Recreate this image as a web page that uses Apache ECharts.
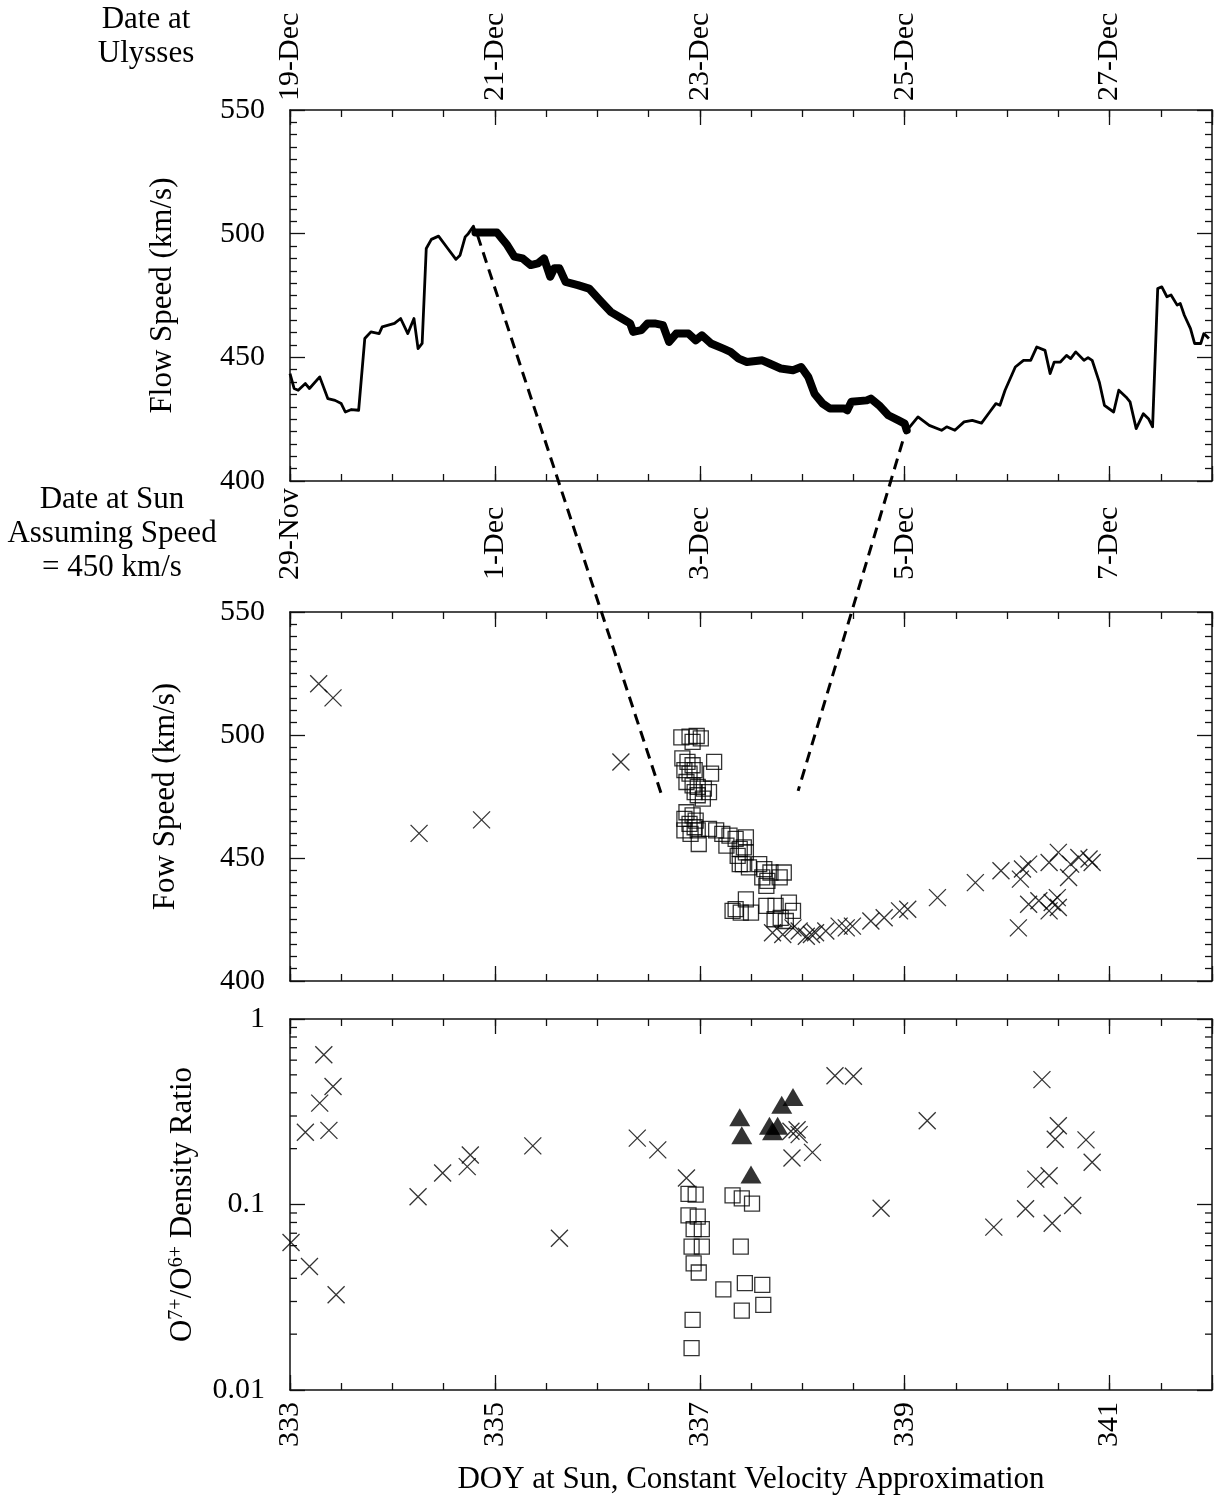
<!DOCTYPE html>
<html>
<head>
<meta charset="utf-8">
<script src="https://cdn.jsdelivr.net/npm/echarts@6/dist/echarts.min.js"></script>
<style>
html, body { margin: 0; padding: 0; background: #fff; }
#chart { width: 1214px; height: 1501px; }
</style>
</head>
<body>
<div id="chart"></div>
<script>
// tick labels
var labelDoy = [333, 335, 337, 339, 341];
var ulyssesDates = ['19-Dec', '21-Dec', '23-Dec', '25-Dec', '27-Dec'];
var sunDates = ['29-Nov', '1-Dec', '3-Dec', '5-Dec', '7-Dec'];

// top panel: flow speed at Ulysses, mapped back to DOY at Sun
var ulyssesDoy = [333.00, 333.04, 333.08, 333.15, 333.19, 333.29, 333.37, 333.44, 333.50, 333.54, 333.60, 333.67,
  333.73, 333.79, 333.87, 333.90, 333.96, 334.02, 334.08, 334.15, 334.21, 334.25, 334.29, 334.33, 334.38, 334.45,
  334.54, 334.62, 334.66, 334.71, 334.74, 334.79, 334.81, 335.02, 335.12, 335.19, 335.27, 335.35, 335.42, 335.48,
  335.54, 335.58, 335.63, 335.69, 335.81, 335.92, 336.04, 336.13, 336.24, 336.32, 336.35, 336.43, 336.49, 336.56,
  336.64, 336.70, 336.77, 336.89, 336.96, 337.02, 337.11, 337.23, 337.30, 337.38, 337.46, 337.61, 337.68, 337.79,
  337.91, 337.99, 338.06, 338.12, 338.20, 338.27, 338.41, 338.44, 338.48, 338.63, 338.67, 338.75, 338.84, 338.94,
  339.00, 339.02, 339.05, 339.13, 339.24, 339.36, 339.41, 339.49, 339.58, 339.66, 339.75, 339.83, 339.89, 339.93,
  339.98, 340.08, 340.16, 340.23, 340.29, 340.37, 340.42, 340.46, 340.52, 340.58, 340.62, 340.67, 340.75, 340.79,
  340.83, 340.90, 340.95, 341.04, 341.09, 341.16, 341.20, 341.26, 341.33, 341.38, 341.42, 341.47, 341.51, 341.56,
  341.60, 341.66, 341.69, 341.73, 341.79, 341.83, 341.89, 341.92, 341.97];
var ulyssesSpeed = [443.4, 437.4, 436.7, 439.4, 437.4, 442.1, 433.3, 432.6, 431.3, 427.9, 428.9, 428.6,
  457.6, 460.3, 459.6, 462.3, 463.0, 463.7, 465.7, 459.6, 465.7, 453.5, 455.6, 494.0, 497.7, 499.0,
  494.0, 489.6, 491.3, 498.7, 500.0, 503.0, 500.5, 500.5, 495.4, 490.7, 490.0, 487.3, 488.0, 490.0,
  482.6, 486.0, 486.0, 480.5, 479.2, 477.8, 472.4, 468.4, 465.7, 463.7, 460.3, 461.0, 463.7, 463.7,
  463.0, 456.2, 459.6, 459.6, 456.9, 458.9, 455.6, 453.5, 452.2, 449.5, 448.1, 448.8, 447.5, 445.5,
  444.8, 446.1, 442.0, 435.3, 431.3, 429.3, 429.3, 428.6, 432.0, 432.6, 433.3, 430.6, 426.6, 424.5,
  423.2, 420.5, 421.9, 425.9, 422.5, 420.5, 421.9, 420.5, 423.9, 424.5, 423.4, 427.9, 431.3, 430.6,
  436.7, 446.1, 448.8, 448.8, 454.2, 452.8, 443.4, 448.1, 448.1, 450.8, 449.5, 452.2, 448.8, 449.9,
  448.8, 440.0, 430.6, 427.9, 436.7, 434.0, 432.0, 421.2, 427.2, 425.2, 421.9, 477.8, 478.5, 474.5,
  475.2, 471.1, 471.8, 467.0, 461.6, 455.6, 455.6, 459.6, 457.6];
var highlightRange = [334.80, 339.02];

// dashed connectors: [doy, speed] on top panel -> [doy, speed] on middle panel
var connectorTop = [[334.83, 499.4], [338.98, 416.0]];
var connectorMid = [[336.63, 475.3], [337.96, 477.3]];

// middle panel: flow speed at Sun
var midCrossDoy = [333.28, 333.42, 334.26, 334.87, 336.23, 337.71, 337.81, 337.91, 337.97, 338.04, 338.09, 338.13,
  338.23, 338.36, 338.43, 338.49, 338.67, 338.80, 338.95, 339.03, 339.32, 339.69, 339.94, 340.15, 340.21, 340.13,
  340.41, 340.50, 340.62, 340.60, 340.70, 340.80, 340.83, 340.21, 340.31, 340.44, 340.49, 340.41, 340.11, 340.50];
var midCrossSpeed = [520.8, 515.1, 460.0, 465.5, 489.0, 419.6, 418.9, 421.6, 420.3, 418.2, 418.9, 419.6,
  420.3, 422.3, 421.6, 422.3, 424.4, 425.7, 428.5, 429.2, 433.9, 440.0, 444.8, 445.5, 447.5, 441.4,
  448.2, 452.3, 447.5, 442.1, 450.2, 449.6, 448.2, 431.2, 432.6, 431.9, 433.9, 428.5, 421.6, 429.9];
var midSquareDoy = [336.82, 336.90, 336.97, 337.01, 336.93, 336.83, 336.88, 336.93, 337.14, 336.85, 336.90, 336.95,
  337.11, 336.87, 336.93, 336.98, 337.04, 337.09, 336.98, 337.03, 336.95, 336.87, 336.93, 336.85, 336.90, 336.96,
  336.85, 336.91, 336.98, 336.99, 336.95, 337.09, 337.16, 337.22, 337.29, 337.26, 337.35, 337.39, 337.45, 337.43,
  337.37, 337.42, 337.48, 337.45, 337.39, 337.58, 337.63, 337.61, 337.66, 337.69, 337.82, 337.78, 337.65, 337.35,
  337.40, 337.45, 337.50, 337.32, 337.65, 337.74, 337.79, 337.87, 337.91, 337.84, 337.73];
var midSquareSpeed = [499.0, 499.3, 499.6, 498.6, 497.2, 490.5, 489.1, 487.7, 489.1, 485.7, 484.3, 485.7,
  484.3, 480.9, 479.5, 478.9, 478.2, 476.8, 475.5, 474.1, 476.8, 468.6, 467.3, 465.9, 463.9, 465.2,
  461.2, 459.8, 461.2, 455.7, 462.5, 461.8, 461.2, 459.8, 459.1, 455.0, 457.8, 453.7, 458.4, 454.3,
  450.9, 447.5, 446.2, 452.3, 447.5, 447.5, 445.5, 442.1, 440.7, 444.1, 444.1, 442.1, 438.7, 429.2,
  427.8, 433.2, 427.8, 428.5, 430.5, 430.5, 425.7, 431.9, 428.5, 424.4, 425.1];

// bottom panel: O7+/O6+ density ratio
var ratioCrossDoy = [333.01, 333.19, 333.15, 333.33, 333.29, 333.42, 333.38, 333.45, 334.25, 334.49, 334.73, 334.76,
  335.37, 335.63, 336.39, 336.59, 336.87, 338.32, 338.50, 337.95, 337.89, 337.97, 337.90, 338.10, 338.77, 339.22,
  339.87, 340.18, 340.28, 340.41, 340.34, 340.50, 340.47, 340.44, 340.64, 340.77, 340.83];
var ratioCrossValue = [0.0624, 0.0463, 0.245, 0.642, 0.352, 0.433, 0.251, 0.0326, 0.110, 0.148, 0.160, 0.185,
  0.207, 0.0658, 0.228, 0.197, 0.139, 0.494, 0.491, 0.253, 0.248, 0.238, 0.178, 0.191, 0.0955, 0.283,
  0.0755, 0.0948, 0.137, 0.143, 0.471, 0.266, 0.225, 0.0793, 0.0988, 0.223, 0.169];
var ratioSquareDoy = [336.89, 336.96, 336.89, 336.98, 336.94, 337.02, 336.92, 337.02, 336.94, 336.99, 337.32,
  337.41, 337.51, 337.40, 337.23, 337.44, 337.61, 337.41, 337.62, 336.93, 336.92];
var ratioSquareValue = [0.114, 0.113, 0.0873, 0.0861, 0.0736, 0.0736, 0.0593, 0.0593, 0.0482, 0.0430, 0.112,
  0.108, 0.101, 0.0593, 0.0349, 0.0377, 0.0369, 0.0268, 0.0288, 0.0239, 0.0168];
var ratioTriDoy = [337.39, 337.41, 337.50, 337.68, 337.71, 337.76, 337.80, 337.91];
var ratioTriValue = [0.295, 0.236, 0.145, 0.266, 0.248, 0.266, 0.345, 0.380];
var logMinorTicks = [0.02, 0.03, 0.04, 0.05, 0.06, 0.07, 0.08, 0.09, 0.2, 0.3, 0.4, 0.5, 0.6, 0.7, 0.8, 0.9];

var FONT = 'Liberation Serif';
var INK = '#111';

function zip(xs, ys) {
  return xs.map(function (x, i) { return [x, ys[i]]; });
}

function pickLabel(labels) {
  return function (v) {
    for (var i = 0; i < labelDoy.length; i++) {
      if (Math.abs(v - labelDoy[i]) < 1e-6) return labels[i];
    }
    return '';
  };
}

// 4 x axes per grid: minor ticks + major ticks, bottom and top
function xAxesFor(grid, top, bottom) {
  var list = [];
  ['bottom', 'top'].forEach(function (pos) {
    list.push({
      type: 'value', gridIndex: grid, position: pos, min: 333, max: 342, interval: 0.5,
      splitLine: {show: false},
      axisLine: {show: true, onZero: false, lineStyle: {color: INK, width: 1.5}},
      axisTick: {show: true, inside: true, length: 7, lineStyle: {color: INK, width: 1.3}},
      axisLabel: {show: false}
    });
    var cfg = pos === 'top' ? top : bottom;
    var ax = {
      type: 'value', gridIndex: grid, position: pos, min: 333, max: 342, interval: 2,
      splitLine: {show: false},
      axisLine: {show: false, onZero: false},
      axisTick: {show: true, inside: true, length: 15, lineStyle: {color: INK, width: 1.3}},
      axisLabel: {show: false}
    };
    if (cfg) {
      ax.axisLabel = {
        show: true, rotate: pos === 'top' ? -90 : 90, margin: cfg.margin, formatter: pickLabel(cfg.labels),
        fontFamily: FONT, fontSize: 30, color: '#000'
      };
      if (cfg.name) {
        ax.name = cfg.name;
        ax.nameLocation = 'middle';
        ax.nameGap = cfg.nameGap;
        ax.nameTextStyle = {fontFamily: FONT, fontSize: 31, color: '#000'};
      }
    }
    list.push(ax);
  });
  return list;
}

function yAxesFor(grid, name, nameGap, isLog) {
  var base = isLog
    ? {type: 'log', logBase: 10, min: 0.01, max: 1}
    : {type: 'value', min: 400, max: 550, interval: 50,
       minorTick: {show: true, splitNumber: 10, length: 7, lineStyle: {color: INK, width: 1.3}}};
  var left = Object.assign({
    gridIndex: grid, position: 'left',
    splitLine: {show: false},
    axisLine: {show: true, onZero: false, lineStyle: {color: INK, width: 1.5}},
    axisTick: {show: true, inside: true, length: 15, lineStyle: {color: INK, width: 1.3}},
    axisLabel: {
      show: true, margin: 25, fontFamily: FONT, fontSize: 30, color: '#000',
      formatter: function (v) { return String(Number(Number(v).toPrecision(3))); }
    },
    name: name, nameLocation: 'middle', nameGap: nameGap, nameRotate: 90,
    nameTextStyle: {
      fontFamily: FONT, fontSize: 31, color: '#000',
      rich: {sup: {fontFamily: FONT, fontSize: 20, color: '#000', verticalAlign: 'top', lineHeight: 18}}
    }
  }, base);
  var right = Object.assign({}, left, {
    position: 'right', axisLabel: {show: false}, name: ''
  });
  return [left, right];
}

var grids = [
  {left: 290, right: 2, top: 110, height: 371},
  {left: 290, right: 2, top: 612, height: 369},
  {left: 290, right: 2, top: 1019, height: 371}
];

var xAxes = []
  .concat(xAxesFor(0, {labels: ulyssesDates, margin: 9}, null))
  .concat(xAxesFor(1, {labels: sunDates, margin: 32}, null))
  .concat(xAxesFor(2, null, {labels: labelDoy.map(String), margin: 12,
    name: 'DOY at Sun, Constant Velocity Approximation', nameGap: 74}));

var yAxes = []
  .concat(yAxesFor(0, 'Flow Speed (km/s)', 112, false))
  .concat(yAxesFor(1, 'Fow Speed (km/s)', 109, false))
  .concat(yAxesFor(2, 'O{sup|7+}/O{sup|6+} Density Ratio', 92, true));

var ulyssesData = zip(ulyssesDoy, ulyssesSpeed);
var crossSymbol = 'path://M0,0L20,20M20,0L0,20';
var hollow = {color: 'rgba(0,0,0,0)', borderColor: '#000', borderWidth: 1.3};

var option = {
  animation: false,
  backgroundColor: '#fff',
  grid: grids,
  xAxis: xAxes,
  yAxis: yAxes,
  graphic: [
    {type: 'text', x: 146, y: 3, style: {text: 'Date at\nUlysses', font: '31px "Liberation Serif"',
      textAlign: 'center', textVerticalAlign: 'top', lineHeight: 34, fill: '#000'}},
    {type: 'text', x: 112, y: 483, style: {text: 'Date at Sun\nAssuming Speed\n= 450 km/s', font: '31px "Liberation Serif"',
      textAlign: 'center', textVerticalAlign: 'top', lineHeight: 34, fill: '#000'}}
  ],
  series: [
    {
      type: 'line', xAxisIndex: 0, yAxisIndex: 0, data: ulyssesData, symbol: 'none',
      lineStyle: {color: '#000', width: 2.8, join: 'round'}
    },
    {
      type: 'line', xAxisIndex: 0, yAxisIndex: 0, symbol: 'none',
      data: ulyssesData.filter(function (p) { return p[0] >= highlightRange[0] && p[0] <= highlightRange[1]; }),
      lineStyle: {color: '#000', width: 8, join: 'round', cap: 'round'}
    },
    {
      type: 'scatter', xAxisIndex: 4, yAxisIndex: 2, data: zip(midSquareDoy, midSquareSpeed),
      symbol: 'rect', symbolSize: 15, itemStyle: hollow
    },
    {
      type: 'scatter', xAxisIndex: 4, yAxisIndex: 2, data: zip(midCrossDoy, midCrossSpeed),
      symbol: crossSymbol, symbolSize: 17, itemStyle: hollow
    },
    {
      type: 'scatter', xAxisIndex: 8, yAxisIndex: 4, data: zip(ratioCrossDoy, ratioCrossValue),
      symbol: crossSymbol, symbolSize: 17, itemStyle: hollow
    },
    {
      type: 'scatter', xAxisIndex: 8, yAxisIndex: 4, data: zip(ratioSquareDoy, ratioSquareValue),
      symbol: 'rect', symbolSize: 15, itemStyle: hollow
    },
    {
      type: 'scatter', xAxisIndex: 8, yAxisIndex: 4, data: zip(ratioTriDoy, ratioTriValue),
      symbol: 'triangle', symbolSize: [21, 18], itemStyle: {color: '#000'}
    },
    {
      // minor ticks of the log axis, both sides
      type: 'custom', xAxisIndex: 8, yAxisIndex: 4, silent: true,
      data: logMinorTicks.map(function (v) { return [333, v]; }),
      renderItem: function (params, api) {
        var v = api.value(1);
        var a = api.coord([333, v]);
        var b = api.coord([342, v]);
        var st = {stroke: INK, lineWidth: 1.3};
        return {type: 'group', children: [
          {type: 'line', shape: {x1: a[0], y1: a[1], x2: a[0] + 7, y2: a[1]}, style: st},
          {type: 'line', shape: {x1: b[0] - 7, y1: b[1], x2: b[0], y2: b[1]}, style: st}
        ]};
      }
    }
  ]
};

var myChart = echarts.init(document.getElementById('chart'));
myChart.setOption(option);

// dashed lines linking the two speed panels
var links = connectorTop.map(function (p, i) {
  var a = myChart.convertToPixel({xAxisIndex: 0, yAxisIndex: 0}, p);
  var b = myChart.convertToPixel({xAxisIndex: 4, yAxisIndex: 2}, connectorMid[i]);
  return {
    type: 'line', z: 50,
    shape: {x1: a[0], y1: a[1], x2: b[0], y2: b[1]},
    style: {stroke: '#000', lineWidth: 3, lineDash: [11, 7]}
  };
});
myChart.setOption({graphic: option.graphic.concat(links)});
</script>
</body>
</html>
